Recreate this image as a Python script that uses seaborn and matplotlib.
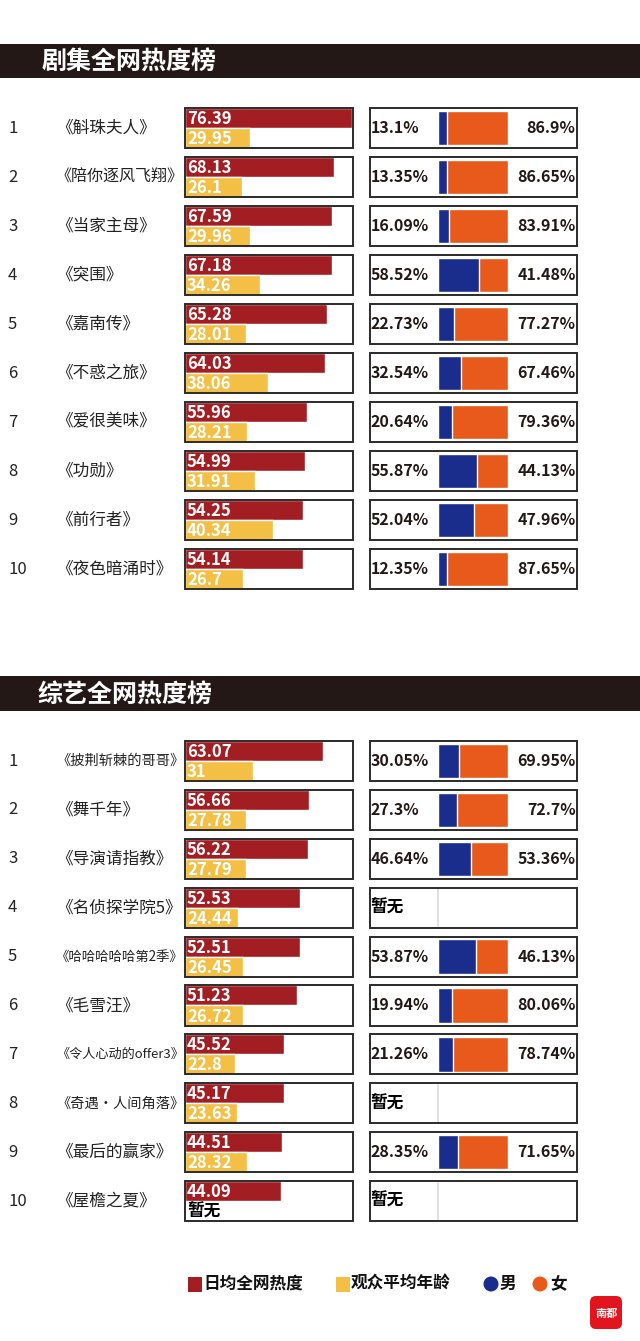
import numpy as np
import pandas as pd
import matplotlib
matplotlib.use('Agg')
import matplotlib.pyplot as plt
import seaborn as sns
from matplotlib.patches import Rectangle, Circle, FancyBboxPatch

sns.set_theme(style='white')
plt.rcParams['font.family'] = ['Noto Sans CJK SC', 'DejaVu Sans']

# ---------------- data ----------------
drama_title = '剧集全网热度榜'
drama_names = ['《斛珠夫人》', '《陪你逐风飞翔》', '《当家主母》', '《突围》', '《嘉南传》',
               '《不惑之旅》', '《爱很美味》', '《功勋》', '《前行者》', '《夜色暗涌时》']
drama_heat = [76.39, 68.13, 67.59, 67.18, 65.28, 64.03, 55.96, 54.99, 54.25, 54.14]
drama_age = [29.95, 26.1, 29.96, 34.26, 28.01, 38.06, 28.21, 31.91, 40.34, 26.7]
drama_male = [13.1, 13.35, 16.09, 58.52, 22.73, 32.54, 20.64, 55.87, 52.04, 12.35]
drama_female = [86.9, 86.65, 83.91, 41.48, 77.27, 67.46, 79.36, 44.13, 47.96, 87.65]

variety_title = '综艺全网热度榜'
variety_names = ['《披荆斩棘的哥哥》', '《舞千年》', '《导演请指教》', '《名侦探学院5》',
                 '《哈哈哈哈哈第2季》', '《毛雪汪》', '《令人心动的offer3》', '《奇遇·人间角落》',
                 '《最后的赢家》', '《屋檐之夏》']
variety_heat = [63.07, 56.66, 56.22, 52.53, 52.51, 51.23, 45.52, 45.17, 44.51, 44.09]
variety_age = [31, 27.78, 27.79, 24.44, 26.45, 26.72, 22.8, 23.63, 28.32, None]
variety_male = [30.05, 27.3, 46.64, None, 53.87, 19.94, 21.26, None, 28.35, None]
variety_female = [69.95, 72.7, 53.36, None, 46.13, 80.06, 78.74, None, 71.65, None]

legend_labels = ['日均全网热度', '观众平均年龄', '男', '女']
missing_label = '暂无'
logo_text = '南都'

# ---------------- style ----------------
RED = '#A31E23'
YELLOW = '#F3BF45'
BLUE = '#1B2D8C'
ORANGE = '#E85A1C'
DARK = '#231815'
W, H = 640, 1341

fig = plt.figure(figsize=(W / 100, H / 100), dpi=100)
fig.patch.set_facecolor('white')

ax0 = fig.add_axes([0, 0, 1, 1])
ax0.set_xlim(0, W)
ax0.set_ylim(H, 0)
ax0.axis('off')


def px_axes(left, top, right, bottom):
    a = fig.add_axes([left / W, 1 - bottom / H, (right - left) / W, (bottom - top) / H])
    a.patch.set_alpha(0)
    return a


def fmt(v):
    return f'{v:g}'


HEAT_MAX = 77.0
BOX_H = 0.82
NAME_X = 56
NAME_RIGHT = 184
name_texts = []


def draw_section(title, names, heat, age, male, female, head_top, head_bot, row1, pitch, title_x):
    n = len(names)
    # header band
    ax0.add_patch(Rectangle((0, head_top), W, head_bot - head_top, color=DARK, lw=0))
    ax0.text(title_x, (head_top + head_bot) / 2 + 1, title, color='white', fontsize=18,
             fontweight='heavy', style='italic', va='center', ha='left')
    top = row1 - pitch / 2
    bottom = row1 + pitch * (n - 0.5)
    # rank + name
    for i, nm in enumerate(names):
        yc = row1 + i * pitch
        ax0.text(8, yc, str(i + 1), fontsize=12, color='#222222',
                 va='center', ha='left')
        t = ax0.text(NAME_X, yc, nm, fontsize=12, fontweight='light', color='#222222',
                     va='center', ha='left')
        name_texts.append(t)

    # heat / age bars
    ax = px_axes(185, top, 353, bottom)
    df = pd.DataFrame({'name': names * 2,
                       'metric': ['heat'] * n + ['age'] * n,
                       'value': list(heat) + list(age)})
    df['value'] = pd.to_numeric(df['value'])
    df = df.dropna()
    sns.barplot(data=df, x='value', y='name', hue='metric', order=names,
                hue_order=['heat', 'age'], palette=[RED, YELLOW], width=BOX_H,
                dodge=True, saturation=1, errorbar=None, legend=False, ax=ax, orient='h')
    ax.set_xlim(0, HEAT_MAX)
    ax.set_ylim(n - 0.5, -0.5)
    ax.axis('off')
    for i in range(n):
        ax.add_patch(Rectangle((0, i - BOX_H / 2), HEAT_MAX, BOX_H, fill=False,
                               ec='#2b2b2b', lw=1.4, clip_on=False, zorder=6))
        ax.text(0.9, i - BOX_H / 4 + 0.02, fmt(heat[i]), color='white', fontsize=12,
                fontweight='bold', va='center', ha='left', zorder=7)
        if age[i] is None:
            ax.text(0.9, i + BOX_H / 4 + 0.02, missing_label, color='black', fontsize=12,
                    fontweight='bold', va='center', ha='left', zorder=7)
        else:
            ax.text(0.9, i + BOX_H / 4 + 0.02, fmt(age[i]), color='white', fontsize=12,
                    fontweight='bold', va='center', ha='left', zorder=7)

    # gender stacked bar
    axg = px_axes(438, top, 508, bottom)
    gdf = pd.DataFrame({'name': names,
                        'male': pd.to_numeric(pd.Series(male, dtype='object')),
                        'female': pd.to_numeric(pd.Series(female, dtype='object'))})
    gdf['total'] = gdf['male'] + gdf['female']
    gd = gdf.dropna()
    sns.barplot(data=gd, x='total', y='name', order=names, color=ORANGE, width=0.7,
                saturation=1, errorbar=None, ax=axg, orient='h')
    sns.barplot(data=gd, x='male', y='name', order=names, color=BLUE, width=0.7,
                saturation=1, errorbar=None, ax=axg, orient='h')
    axg.set_xlim(0, 100)
    axg.set_ylim(n - 0.5, -0.5)
    axg.axis('off')
    lx = (369.5 - 438) / 70 * 100
    rx = (577 - 438) / 70 * 100
    for i in range(n):
        axg.add_patch(Rectangle((lx, i - BOX_H / 2), rx - lx, BOX_H, fill=False,
                                ec='#2b2b2b', lw=1.4, clip_on=False, zorder=6))
        if male[i] is None:
            axg.text(lx + 1.5, i, missing_label, color='black', fontsize=12,
                     fontweight='bold', va='center', ha='left', clip_on=False)
            axg.plot([0, 0], [i - 0.38, i + 0.38], color='#dcdcdc', lw=1.2, clip_on=False)
        else:
            axg.text(lx + 2.0, i, fmt(male[i]) + '%', color=DARK, fontsize=11.5,
                     fontweight='bold', va='center', ha='left', clip_on=False)
            axg.text(rx - 2.0, i, fmt(female[i]) + '%', color=DARK, fontsize=11.5,
                     fontweight='bold', va='center', ha='right', clip_on=False)


draw_section(drama_title, drama_names, drama_heat, drama_age, drama_male, drama_female,
             44, 78, 128, 49.0, 42)
draw_section(variety_title, variety_names, variety_heat, variety_age, variety_male,
             variety_female, 676, 711, 761, 48.9, 38)

# fit long names into the space before the bar box
renderer = fig.canvas.get_renderer()
for t in name_texts:
    w = t.get_window_extent(renderer).width
    if w > NAME_RIGHT - NAME_X:
        t.set_fontsize(t.get_fontsize() * (NAME_RIGHT - NAME_X) / w)

# legend
ly = 1284
ax0.add_patch(Rectangle((188, ly - 7.5), 14, 15, color=RED, lw=0))
ax0.text(203, ly, legend_labels[0], fontsize=12, fontweight='bold', color='#111111',
         va='center', ha='left')
ax0.add_patch(Rectangle((336, ly - 7.5), 14, 15, color=YELLOW, lw=0))
ax0.text(351, ly, legend_labels[1], fontsize=12, fontweight='bold', color='#111111',
         va='center', ha='left')
ax0.add_patch(Circle((491, ly), 7.5, color=BLUE, lw=0))
ax0.text(500, ly, legend_labels[2], fontsize=12, fontweight='bold', color='#111111',
         va='center', ha='left')
ax0.add_patch(Circle((540, ly), 7.5, color=ORANGE, lw=0))
ax0.text(550, ly, legend_labels[3], fontsize=12, fontweight='bold', color='#111111',
         va='center', ha='left')

# logo
ax0.add_patch(FancyBboxPatch((590, 1296), 32, 33, boxstyle='round,pad=0,rounding_size=6',
                             color='#E2141D', lw=0))
ax0.text(606, 1313, logo_text, color='white', fontsize=8, fontweight='bold',
         va='center', ha='center')

fig.savefig('out.png', dpi=100, facecolor='white')
